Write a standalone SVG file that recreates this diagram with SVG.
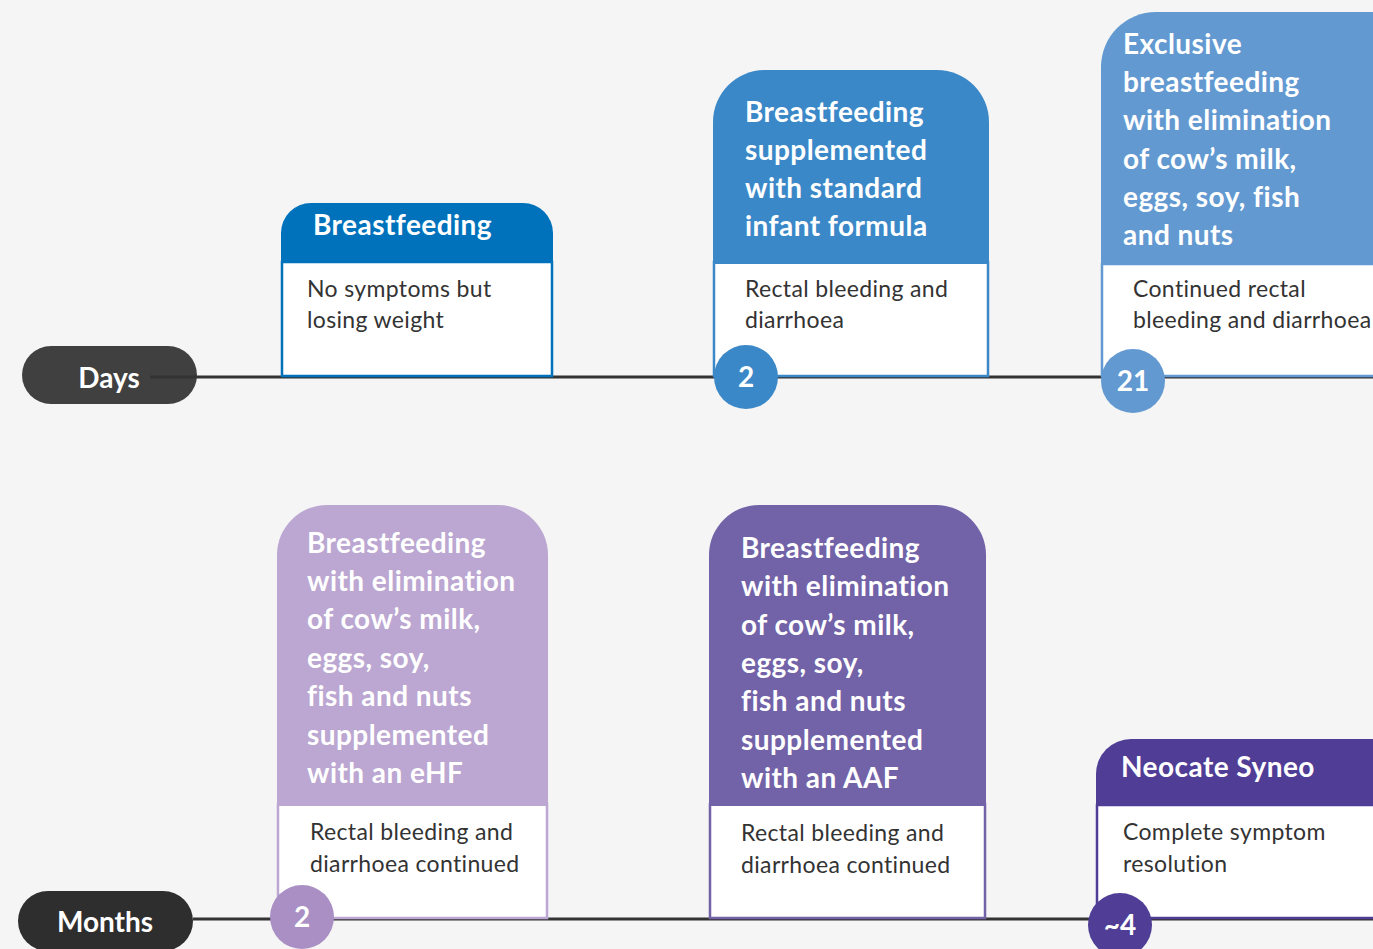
<svg xmlns="http://www.w3.org/2000/svg" width="1373" height="949" viewBox="0 0 1373 949">
<style>
.hd{font-family:Lato,"Liberation Sans",sans-serif;font-weight:700;font-size:28px;fill:#fff;letter-spacing:0.45px}
.bd{font-family:Lato,"Liberation Sans",sans-serif;font-weight:400;font-size:23px;fill:#333;letter-spacing:0.35px}
.pill{font-family:Lato,"Liberation Sans",sans-serif;font-weight:700;font-size:28px;fill:#fff;text-anchor:middle}
.num{font-family:Lato,"Liberation Sans",sans-serif;font-weight:700;font-size:28px;fill:#fff;text-anchor:middle}
.body{fill:#fff;stroke-width:2.5}
.axis{stroke:#333;stroke-width:3;fill:none}
</style>
<rect width="1373" height="949" fill="#f5f5f5"/>
<g id="days-pill">
<rect x="22" y="346" width="175" height="58" rx="29" fill="#404040"/>
<text class="pill" x="109" y="388">Days</text>
</g>
<g id="months-pill">
<rect x="18" y="891" width="175" height="60" rx="30" fill="#2e2e2e"/>
<text class="pill" x="105" y="932">Months</text>
</g>
<g id="connectors">
<line class="axis" x1="150" y1="377" x2="1373" y2="377"/>
<line class="axis" x1="193" y1="919" x2="1373" y2="919"/>
</g>
<g id="card-breastfeeding">
<rect class="body" x="282" y="262" width="270" height="114" stroke="#0072bc"/>
<path d="M281 263 V233 a30 30 0 0 1 30 -30 H523 a30 30 0 0 1 30 30 V263 Z" fill="#0072bc"/>
<text class="hd" x="313" y="235">Breastfeeding</text>
<text class="bd" x="307" y="297">No symptoms but</text>
<text class="bd" x="307" y="328">losing weight</text>
</g>
<g id="card-standard-formula">
<rect class="body" x="714" y="262" width="274" height="114" stroke="#3b88c8"/>
<path d="M713 264 V122 a52 52 0 0 1 52 -52 H937 a52 52 0 0 1 52 52 V264 Z" fill="#3b88c8"/>
<text class="hd" x="745" y="122">Breastfeeding</text>
<text class="hd" x="745" y="160">supplemented</text>
<text class="hd" x="745" y="198">with standard</text>
<text class="hd" x="745" y="236">infant formula</text>
<text class="bd" x="745" y="297">Rectal bleeding and</text>
<text class="bd" x="745" y="328">diarrhoea</text>
<circle cx="746" cy="377" r="32" fill="#3b88c8"/>
<text class="num" x="746" y="387">2</text>
</g>
<g id="card-exclusive">
<rect class="body" x="1102" y="264" width="290" height="112" stroke="#6399d1"/>
<path d="M1101 265 V67 a55 55 0 0 1 55 -55 H1400 V265 Z" fill="#6399d1"/>
<text class="hd" x="1123" y="54">Exclusive</text>
<text class="hd" x="1123" y="92">breastfeeding</text>
<text class="hd" x="1123" y="130">with elimination</text>
<text class="hd" x="1123" y="169">of cow’s milk,</text>
<text class="hd" x="1123" y="207">eggs, soy, fish</text>
<text class="hd" x="1123" y="245">and nuts</text>
<text class="bd" x="1133" y="297">Continued rectal</text>
<text class="bd" x="1133" y="328">bleeding and diarrhoea</text>
<circle cx="1133" cy="381" r="32" fill="#6399d1"/>
<text class="num" x="1133" y="391">21</text>
</g>
<g id="card-ehf">
<rect class="body" x="278" y="804" width="269" height="114" stroke="#bba7d1"/>
<path d="M277 806 V555 a50 50 0 0 1 50 -50 H498 a50 50 0 0 1 50 50 V806 Z" fill="#bba7d1"/>
<text class="hd" x="307" y="553">Breastfeeding</text>
<text class="hd" x="307" y="591">with elimination</text>
<text class="hd" x="307" y="629">of cow’s milk,</text>
<text class="hd" x="307" y="668">eggs, soy,</text>
<text class="hd" x="307" y="706">fish and nuts</text>
<text class="hd" x="307" y="745">supplemented</text>
<text class="hd" x="307" y="783">with an eHF</text>
<text class="bd" x="310" y="840">Rectal bleeding and</text>
<text class="bd" x="310" y="872">diarrhoea continued</text>
<circle cx="302" cy="917" r="32" fill="#a98fc4"/>
<text class="num" x="302" y="927">2</text>
</g>
<g id="card-aaf">
<rect class="body" x="710" y="804" width="275" height="114" stroke="#7262a8"/>
<path d="M709 806 V555 a50 50 0 0 1 50 -50 H936 a50 50 0 0 1 50 50 V806 Z" fill="#7262a8"/>
<text class="hd" x="741" y="558">Breastfeeding</text>
<text class="hd" x="741" y="596">with elimination</text>
<text class="hd" x="741" y="635">of cow’s milk,</text>
<text class="hd" x="741" y="673">eggs, soy,</text>
<text class="hd" x="741" y="711">fish and nuts</text>
<text class="hd" x="741" y="750">supplemented</text>
<text class="hd" x="741" y="788">with an AAF</text>
<text class="bd" x="741" y="841">Rectal bleeding and</text>
<text class="bd" x="741" y="873">diarrhoea continued</text>
</g>
<g id="card-neocate">
<rect class="body" x="1097" y="805" width="295" height="113" stroke="#4f3d96"/>
<path d="M1096 806 V774 a35 35 0 0 1 35 -35 H1400 V806 Z" fill="#4f3d96"/>
<text class="hd" x="1121" y="777">Neocate Syneo</text>
<text class="bd" x="1123" y="840">Complete symptom</text>
<text class="bd" x="1123" y="872">resolution</text>
<circle cx="1120" cy="925" r="32" fill="#4f3d96"/>
<text class="num" x="1120" y="935">~4</text>
</g>
</svg>
